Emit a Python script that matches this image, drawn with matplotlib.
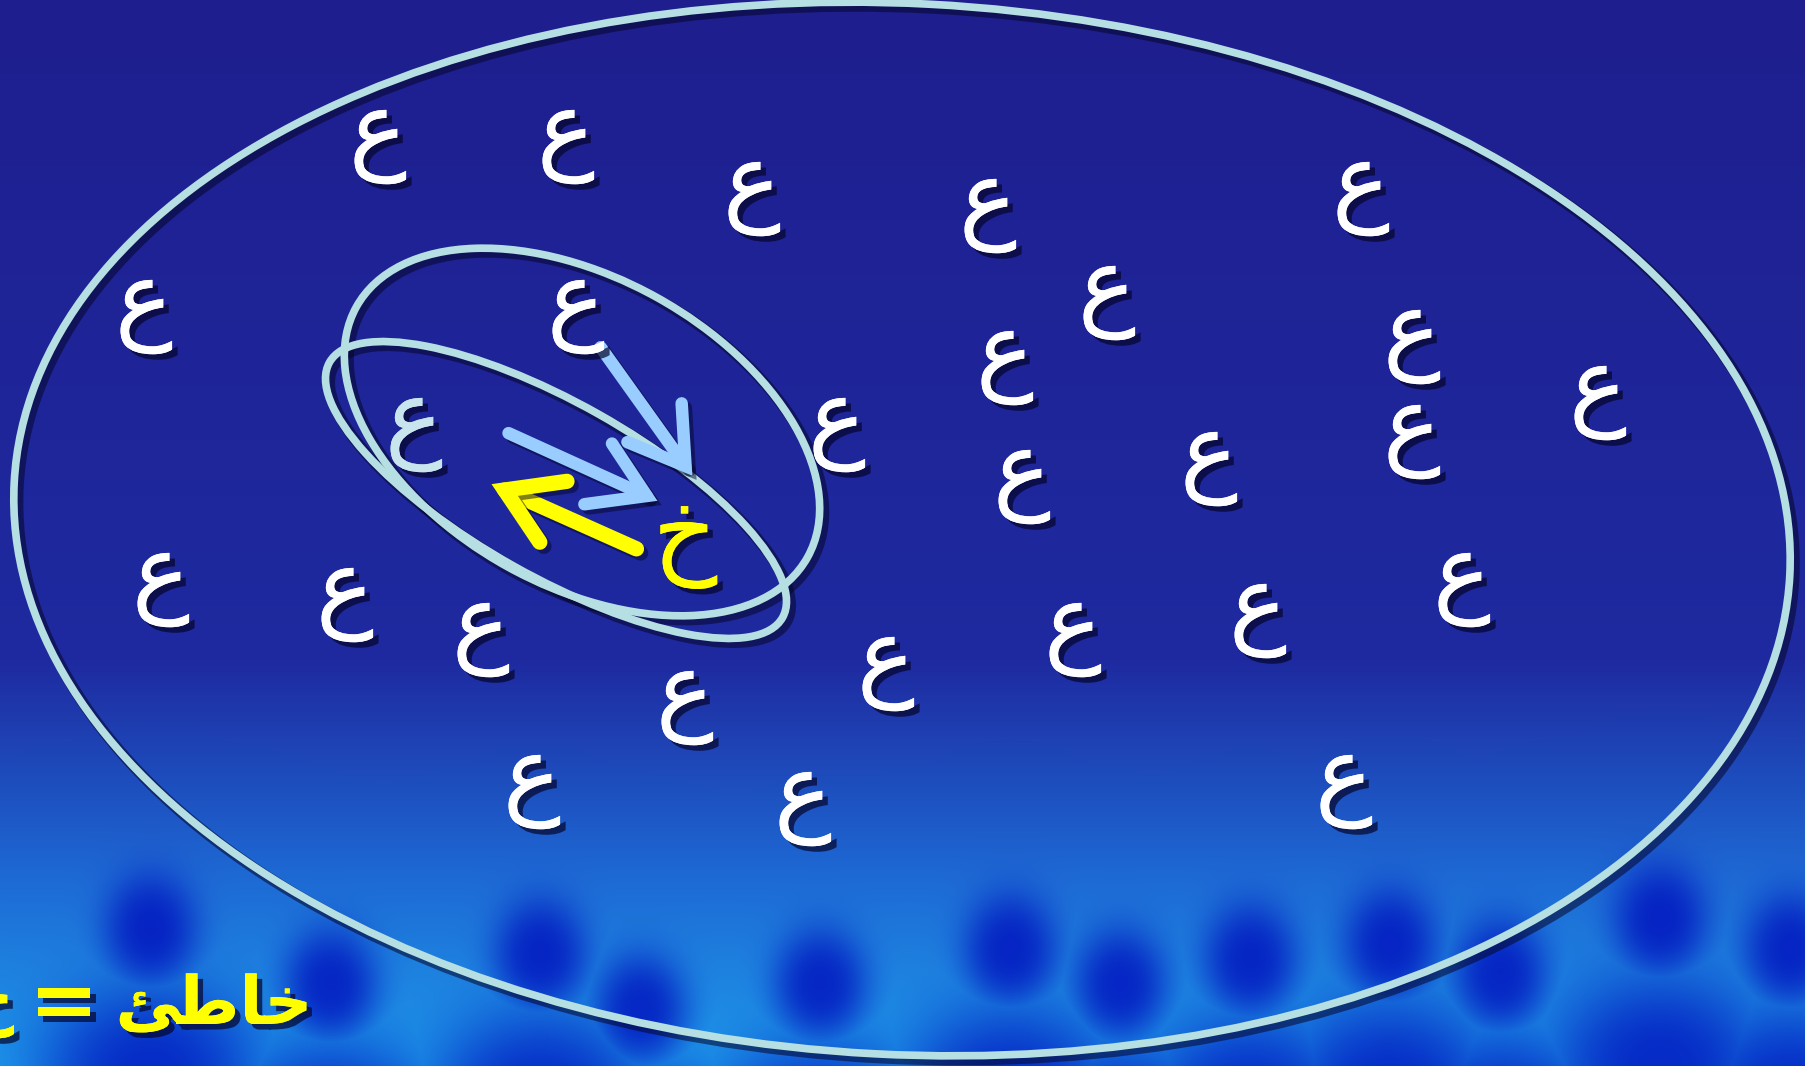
import numpy as np
import matplotlib
matplotlib.use("Agg")
import matplotlib.pyplot as plt
from matplotlib.patches import Ellipse, FancyArrowPatch
import matplotlib.patheffects as pe
import matplotlib.transforms as mtransforms

W, H = 1805, 1066

# ---- data ----
ain_x = [378, 566, 752, 988, 1361, 144, 576, 1107, 1005, 1412, 1598, 414, 837,
         1412, 1209, 1022, 161, 345, 481, 1258, 1462, 1073, 886, 685, 532, 803, 1344]
ain_y = [138, 138, 190, 207, 190, 308, 308, 294, 359, 338, 394, 426, 426,
         433, 460, 478, 581, 596, 631, 612, 581, 631, 665, 699, 783, 800, 783]
faded_index = [11]
kha_pos = (685, 540)

ellipse_cx = [902, 582, 556]
ellipse_cy = [529, 432, 490]
ellipse_w = [1778, 516, 520]
ellipse_h = [1051, 308, 174]
ellipse_angle = [3, 29, 29.4]

arrow_start = [(599, 345), (506, 432), (639, 550)]
arrow_end = [(694, 478), (660, 502), (489, 483)]
arrow_color = ['#99ccff', '#99ccff', '#ffff00']
arrow_width = [9, 9, 11]

word_visual = "\ufe8a\ufec3\ufe8e\ufea7"   # خاطئ in presentation forms, visual order
caption_parts = ["\u062e", "=", word_visual]
caption_x = [-10, 64, 214]
caption_size = [48, 60, 48]

# ---- background ----
yy, xx = np.mgrid[0:H, 0:W]
top = np.array([30, 30, 142]) / 255
mid = np.array([30, 42, 160]) / 255
low = np.array([30, 105, 212]) / 255
bot = np.array([30, 155, 235]) / 255
t = yy / H
img = np.zeros((H, W, 3))
for c in range(3):
    img[..., c] = np.interp(t, [0, 0.62, 0.82, 1.0], [top[c], mid[c], low[c], bot[c]])
dark = np.array([0, 16, 190]) / 255
heads_x = [150, 330, 540, 640, 820, 1010, 1120, 1250, 1390, 1500, 1660, 1790]
heads_y = [930, 985, 955, 1010, 985, 950, 985, 960, 945, 975, 920, 950]
mask = np.zeros((H, W))
for hx, hy in zip(heads_x, heads_y):
    m = np.exp(-(((xx - hx) / 48) ** 2 + ((yy - hy) / 58) ** 2) ** 1.4)
    m2 = np.exp(-(((xx - hx) / 115) ** 2 + ((yy - (hy + 150)) / 95) ** 2) ** 1.4)
    mask = np.maximum(mask, np.maximum(m, m2))
mask = mask * 0.8
for c in range(3):
    img[..., c] = img[..., c] * (1 - mask) + dark[c] * mask

fig = plt.figure(figsize=(W / 100, H / 100), dpi=100)
ax = fig.add_axes([0, 0, 1, 1])
ax.imshow(img, extent=[0, W, H, 0], aspect='auto', zorder=0, interpolation='bilinear')
ax.set_xlim(0, W)
ax.set_ylim(H, 0)
ax.axis('off')

shadow_tr = mtransforms.offset_copy(ax.transData, fig=fig, x=4, y=-4, units='dots')
for cx, cy, w, h, a in zip(ellipse_cx, ellipse_cy, ellipse_w, ellipse_h, ellipse_angle):
    s = Ellipse((cx, cy), w, h, angle=a, fill=False, edgecolor='#06062a', linewidth=8,
                alpha=0.55, zorder=1.9, transform=shadow_tr)
    ax.add_patch(s)
    e = Ellipse((cx, cy), w, h, angle=a, fill=False, edgecolor='#b5dfe2', linewidth=5.5, zorder=2)
    ax.add_patch(e)

for (x0, y0), (x1, y1), col, lw in zip(arrow_start, arrow_end, arrow_color, arrow_width):
    arr = FancyArrowPatch((x0, y0), (x1, y1), arrowstyle='->,head_length=1.6,head_width=1.0',
                          mutation_scale=24, color=col, linewidth=lw, capstyle='round',
                          joinstyle='miter', zorder=3)
    arr.set_path_effects([pe.SimpleLineShadow(offset=(3, -3), shadow_color='#05052a', alpha=0.5), pe.Normal()])
    ax.add_patch(arr)

txt_shadow = [pe.withSimplePatchShadow(offset=(4, -4), shadow_rgbFace='#05052a', alpha=0.7), pe.Normal()]
for i, (x, y) in enumerate(zip(ain_x, ain_y)):
    col = '#c8e4ec' if i in faded_index else 'white'
    ax.text(x, y, "\u0639", fontsize=70, color=col, ha='center', va='center',
            family='DejaVu Sans', zorder=4, path_effects=txt_shadow)

ax.text(kha_pos[0], kha_pos[1], "\u062e", fontsize=72, color='#ffff00', ha='center', va='center',
        family='DejaVu Sans', zorder=4, path_effects=txt_shadow)

for s, x, fs in zip(caption_parts, caption_x, caption_size):
    ax.text(x, 1005, s, fontsize=fs, color='#ffff00', ha='center', va='center', fontweight='bold',
            family='DejaVu Sans', zorder=5, path_effects=txt_shadow)

fig.savefig('out.png', dpi=100)
